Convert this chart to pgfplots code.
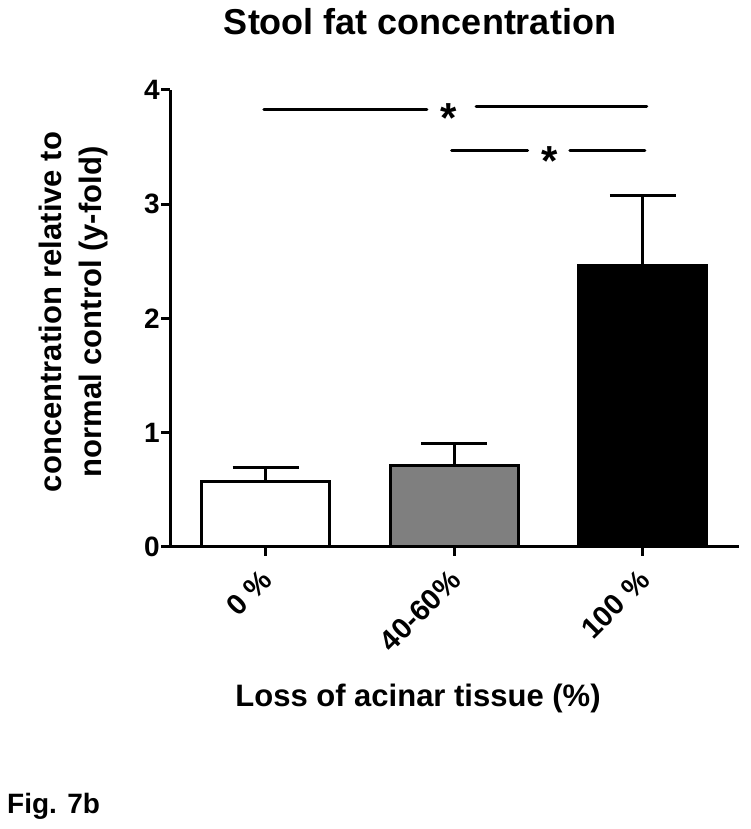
\documentclass[border=0pt]{standalone}
\usepackage{fontspec}
\setmainfont{Liberation Sans}
\usepackage{pgfplots}
\pgfplotsset{compat=1.18}
\definecolor{midgray}{RGB}{127,127,127}
\begin{document}
\begin{tikzpicture}[x=1pt,y=1pt]
\useasboundingbox[fill=white] (0,0) rectangle (750,829);
\begin{axis}[
  at={(170pt,282pt)}, anchor=south west,
  scale only axis, width=569pt, height=457pt,
  xmin=-0.507, xmax=2.509, ymin=0, ymax=4,
  axis x line=bottom, axis y line=left,
  axis line style={-, line width=3pt, black},
  tick align=outside, major tick length=9pt,
  tick style={line width=3pt, black},
  xtick={0,1,2}, xticklabels={0 \%, 40-60\%, 100 \%},
  ytick={0,1,2,3,4}, yticklabels={0,1,2,3,4},
  /pgf/number format/assume math mode=true,
  yticklabel style={font=\fontsize{28}{28}\selectfont\bfseries, inner sep=1pt},
  xticklabel style={font=\fontsize{29}{29}\selectfont\bfseries, inner sep=0pt, xshift=-6pt, yshift=-12pt, rotate=45, anchor=north east},
  clip=false,
  error bars/y dir=plus, error bars/y explicit,
  error bars/error bar style={line width=3pt, black},
  error bars/error mark options={rotate=90, mark size=33pt, line width=3pt, black},
]
\addplot[ybar, bar shift=0pt, bar width=128pt, fill=white, draw=black, line width=3pt]
  coordinates {(0,0.569) +- (0,0.125)};
\addplot[ybar, bar shift=0pt, bar width=128pt, fill=midgray, draw=black, line width=3pt]
  coordinates {(1,0.712) +- (0,0.192)};
\addplot[ybar, bar shift=0pt, bar width=128pt, fill=black, draw=black, line width=3pt]
  coordinates {(2,2.462) +- (0,0.616)};
% significance
\draw[line width=3pt, line cap=round] (axis cs:-0.009,3.831) -- (axis cs:0.855,3.831);
\draw[line width=3pt, line cap=round] (axis cs:1.115,3.854) -- (axis cs:2.02,3.854);
\node[font=\fontsize{42}{42}\selectfont\bfseries, anchor=base, inner sep=0pt] at (axis cs:0.972,3.625) {*};
\draw[line width=3pt, line cap=round] (axis cs:0.986,3.469) -- (axis cs:1.389,3.469);
\draw[line width=3pt, line cap=round] (axis cs:1.613,3.469) -- (axis cs:2.01,3.469);
\node[font=\fontsize{42}{42}\selectfont\bfseries, anchor=base, inner sep=0pt] at (axis cs:1.507,3.25) {*};
\end{axis}
\node[font=\fontsize{36}{36}\selectfont\bfseries, anchor=base] at (420,794) {Stool fat concentration};
\node[font=\fontsize{31}{31}\selectfont\bfseries, anchor=base] at (418,122.3) {Loss of acinar tissue (\%)};
\node[rotate=90, align=center, font=\fontsize{31}{40}\selectfont\bfseries] at (73,517) {concentration relative to\\normal control (y-fold)};
\node[font=\fontsize{28}{28}\selectfont\bfseries, anchor=base west, inner sep=0pt] at (7,16) {Fig. 7b};
\end{tikzpicture}
\end{document}
